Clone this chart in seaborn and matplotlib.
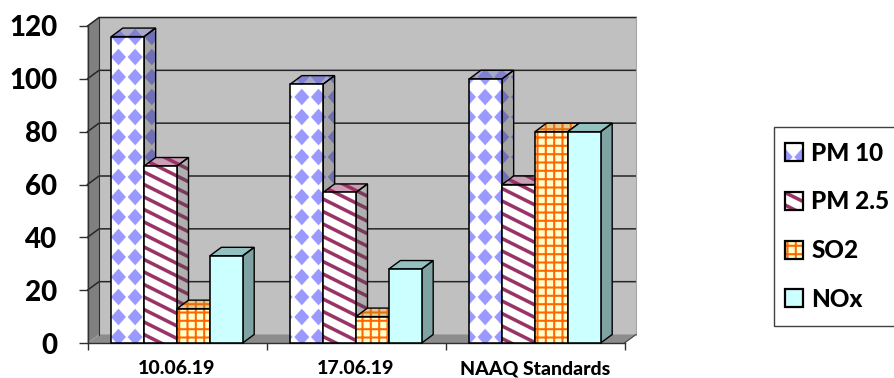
import numpy as np
import seaborn as sns
import pandas as pd
import matplotlib
matplotlib.use("Agg")
import matplotlib.pyplot as plt
import matplotlib.hatch as mh
from matplotlib.path import Path
from matplotlib.patches import Polygon, Rectangle, Patch
from matplotlib.legend_handler import HandlerPatch
from matplotlib.ticker import FixedLocator

categories = ["10.06.19", "17.06.19", "NAAQ Standards"]
series = ["PM 10", "PM 2.5", "SO2", "NOx"]
pm10 = [116, 98, 100]
pm25 = [67, 57, 60]
so2 = [13, 10, 80]
nox = [33, 28, 80]
yticks = [0, 20, 40, 60, 80, 100, 120]


class _Custom(mh.HatchPatternBase):
    char = "?"
    def __init__(self, hatch, density):
        self.verts, self.codes = self.build()
        self.num_vertices = len(self.verts) if hatch.count(self.char) else 0
    def set_vertices_and_codes(self, vertices, codes):
        if self.num_vertices:
            vertices[:] = self.verts
            codes[:] = self.codes


class Diamonds(_Custom):
    char = "D"
    def build(self):
        nx, ny = 6, 5
        rx, ry = 0.074, 0.082
        ox, oy = 0.018, 0.03
        v, c = [], []
        for row in range(-1, ny + 1):
            for col in range(-1, nx + 1):
                cx = col / nx + ox
                cy = row / ny + oy
                v += [(cx - rx, cy), (cx, cy + ry), (cx + rx, cy), (cx, cy - ry), (cx - rx, cy)]
                c += [Path.MOVETO, Path.LINETO, Path.LINETO, Path.LINETO, Path.CLOSEPOLY]
        return np.array(v, float), np.array(c, dtype=Path.code_type)


class Stripes(_Custom):
    char = "S"
    def build(self):
        n = 8
        drop = 4 / n
        half = 0.019
        v, c = [], []
        for k in range(-1, n + 6):
            y = k / n
            v += [(-0.05, y + half + 0.05 * drop), (1.05, y + half - 1.05 * drop),
                  (1.05, y - half - 1.05 * drop), (-0.05, y - half + 0.05 * drop),
                  (-0.05, y + half + 0.05 * drop)]
            c += [Path.MOVETO, Path.LINETO, Path.LINETO, Path.LINETO, Path.CLOSEPOLY]
        return np.array(v, float), np.array(c, dtype=Path.code_type)


class Grid(_Custom):
    char = "G"
    def build(self):
        n = 12
        half = 0.0095
        v, c = [], []
        for k in range(n):
            p = (k + 0.5) / n
            v += [(p - half, 0), (p + half, 0), (p + half, 1), (p - half, 1), (p - half, 0)]
            c += [Path.MOVETO, Path.LINETO, Path.LINETO, Path.LINETO, Path.CLOSEPOLY]
            v += [(0, p - half), (1, p - half), (1, p + half), (0, p + half), (0, p - half)]
            c += [Path.MOVETO, Path.LINETO, Path.LINETO, Path.LINETO, Path.CLOSEPOLY]
        return np.array(v, float), np.array(c, dtype=Path.code_type)


mh._hatch_types.extend([Diamonds, Stripes, Grid])

plt.rcParams["hatch.linewidth"] = 0.1
plt.rcParams["font.family"] = ["Lato", "DejaVu Sans"]
plt.rcParams["font.weight"] = "bold"

styles = {
    "PM 10": dict(h="D", front=("#ffffff", "#9999ff"), side=("#a6a6a6", "#6f6fb5"), top=("#a8a8c8", "#8080d0")),
    "PM 2.5": dict(h="S", front=("#ffffff", "#993366"), side=("#b0b0b0", "#7a3a5c"), top=("#c9a0b5", "#993366")),
    "SO2": dict(h="G", front=("#ffffcc", "#ff6600"), side=("#c8c89a", "#c85000"), top=("#e8c890", "#e07010")),
    "NOx": dict(h=None, front=("#ccffff", "#ccffff"), side=("#7fa3a3", "#7fa3a3"), top=("#93c0c0", "#93c0c0")),
}

W, H = 894, 378
fig = plt.figure(figsize=(W / 100, H / 100), dpi=100, facecolor="white")
L, R, Y0, Y120 = 87.5, 624.5, 343.0, 26.0
ax = fig.add_axes([L / W, 1 - Y0 / H, (R - L) / W, (Y0 - Y120) / H])

df = pd.DataFrame({"category": categories * 4,
                   "series": np.repeat(series, 3),
                   "value": pm10 + pm25 + so2 + nox})
sns.barplot(data=df, x="category", y="value", hue="series", hue_order=series,
            palette=[styles[s]["front"][0] for s in series], width=0.734,
            gap=0, legend=False, saturation=1, ax=ax)

ax.set_xlim(-0.5, 2.5)
ax.set_ylim(0, 120)
ax.set_xlabel("")
ax.set_ylabel("")
ax.patch.set_visible(False)

ppx = 3 / (R - L)
ppy = 120 / (Y0 - Y120)
dx, dy = 11.5 * ppx, 8.5 * ppy
x0, x1 = ax.get_xlim()


def poly(pts, fc, ec="none", lw=0, z=1, hatch=None):
    p = Polygon(pts, closed=True, facecolor=fc, edgecolor=ec, linewidth=lw, hatch=hatch,
                zorder=z, clip_on=False, joinstyle="miter")
    ax.add_patch(p)
    return p


wx = x1 + dx
poly([(x0 + dx, dy), (wx, dy), (wx, 120 + dy), (x0 + dx, 120 + dy)], "#c0c0c0", z=0.1)
poly([(x0, 0), (x0 + dx, dy), (x0 + dx, 120 + dy), (x0, 120)], "#808080", z=0.2)
poly([(x0, 0), (x1, 0), (wx, dy), (x0 + dx, dy)], "#8c8c8c", z=0.2)
for t in yticks[1:]:
    ax.plot([x0, x0 + dx, wx], [t, t + dy, t + dy], color="#262626", lw=1.1, zorder=0.3,
            clip_on=False, solid_joinstyle="miter")
ax.plot([x0 + dx, x0 + dx], [dy, 120 + dy], color="#303030", lw=0.8, zorder=0.3, clip_on=False)
ax.plot([wx, wx], [dy, 120 + dy], color="#a6a6a6", lw=0.8, zorder=0.3, clip_on=False)
ax.plot([x1, wx], [0, dy], color="#404040", lw=0.8, zorder=0.3, clip_on=False)

z = 1.0
bars = []
for name, cont in zip(series, ax.containers):
    for b in cont:
        bars.append((b.get_x(), name, b))
bars.sort(key=lambda t: t[0])
OUT = dict(edgecolor="black", linewidth=1.15)
for x, name, b in bars:
    st = styles[name]
    w, h = b.get_width(), b.get_height()
    poly([(x, h), (x + w, h), (x + w + dx, h + dy), (x + dx, h + dy)], st["top"][0], st["top"][1], 0,
         z, st["h"])
    poly([(x + w, 0), (x + w + dx, dy), (x + w + dx, h + dy), (x + w, h)], st["side"][0], st["side"][1], 0,
         z + 0.01, st["h"])
    poly([(x, h), (x + w, h), (x + w + dx, h + dy), (x + dx, h + dy)], "none", "black", 1.0, z + 0.02)
    poly([(x + w, 0), (x + w + dx, dy), (x + w + dx, h + dy), (x + w, h)], "none", "black", 1.0, z + 0.03)
    b.set_facecolor(st["front"][0])
    b.set_edgecolor(st["front"][1])
    b.set_linewidth(0)
    b.set_hatch(st["h"])
    b.set_zorder(z + 0.04)
    ax.add_patch(Rectangle((x, 0), w, h, fill=False, zorder=z + 0.05, clip_on=False, **OUT))
    z += 0.1

for s in ("top", "right"):
    ax.spines[s].set_visible(False)
for s in ("left", "bottom"):
    ax.spines[s].set_color("#303030")
    ax.spines[s].set_linewidth(1.0)
    ax.spines[s].set_zorder(0.5)
ax.set_yticks(yticks)
ax.tick_params(axis="y", length=6.5, width=1.0, color="#303030", labelsize=20, pad=14 * 0.72 + 5, labelcolor="black")
ax.set_xticks(range(3))
ax.set_xticklabels(categories)
ax.tick_params(axis="x", which="major", length=0, labelsize=14, pad=12.5)
ax.xaxis.set_minor_locator(FixedLocator([-0.5, 0.5, 1.5, 2.5]))
ax.tick_params(axis="x", which="minor", length=5, width=1.0, color="#303030")
for lab in ax.get_yticklabels():
    lab.set_fontweight(900)
for lab in ax.get_xticklabels():
    lab.set_fontweight(900)

SW = 13.0
SHIFT = 2.5


class Swatch(HandlerPatch):
    def create_artists(self, legend, orig, xd, yd, width, height, fontsize, trans):
        x = -xd - SHIFT
        y = -yd + (height - SW) / 2
        fill = Rectangle((x, y), SW, SW, facecolor=orig.get_facecolor(),
                         edgecolor=orig.get_edgecolor(), linewidth=0, hatch=orig.get_hatch(), transform=trans)
        box = Rectangle((x, y), SW, SW, fill=False, edgecolor="black", linewidth=1.6, transform=trans)
        return [fill, box]


handles = [Patch(facecolor=styles[s]["front"][0], edgecolor=styles[s]["front"][1], hatch=styles[s]["h"], label=s)
           for s in series]
leg = fig.legend(handles=handles, labels=series, loc="upper left",
                 bbox_to_anchor=(773.5 / W, 1 - 126.5 / H), borderaxespad=0,
                 prop={"size": 17.5, "weight": 900}, handler_map={Patch: Swatch()},
                 handlelength=0.55, handleheight=0.85, handletextpad=0.38, labelspacing=1.06,
                 borderpad=0.62, frameon=True, fancybox=False, framealpha=1, edgecolor="#404040")
leg.get_frame().set_linewidth(1.0)

fig.savefig("out.png", dpi=100)
